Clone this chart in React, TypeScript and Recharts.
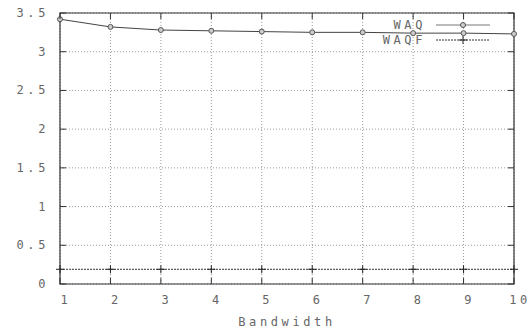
import { LineChart, Line, XAxis, YAxis, CartesianGrid, ReferenceArea } from "recharts";

const bandwidth = [1, 2, 3, 4, 5, 6, 7, 8, 9, 10];
const waq = [3.42, 3.32, 3.28, 3.27, 3.26, 3.25, 3.25, 3.24, 3.24, 3.23];
const waqf = [0.19, 0.19, 0.19, 0.19, 0.19, 0.19, 0.19, 0.19, 0.19, 0.19];
const xTicks = [1, 2, 3, 4, 5, 6, 7, 8, 9, 10];
const yTicks = [0, 0.5, 1, 1.5, 2, 2.5, 3, 3.5];

const data = bandwidth.map((b, i) => ({ b, waq: waq[i], waqf: waqf[i] }));

// plot frame, used only for tick marks drawn inside the box
const L = 60, R = 514, T = 13, B = 284;
const font = { fontFamily: "'DejaVu Sans Mono', monospace", fontSize: 12, letterSpacing: 3.6, fill: "#666" };

const YTick = (p: any) => {
  const y = p.y;
  return (
    <g>
      <line x1={L} x2={L + 6} y1={y} y2={y} stroke="#333" />
      <line x1={R - 6} x2={R} y1={y} y2={y} stroke="#333" />
      <text x={L - 11} y={y + 4} textAnchor="end" style={font}>{String(p.payload.value)}</text>
    </g>
  );
};

const XTick = (p: any) => {
  const x = p.payload.coordinate;
  return (
    <g>
      <line x1={x} x2={x} y1={B} y2={B - 6} stroke="#333" />
      <line x1={x} x2={x} y1={T} y2={T + 6} stroke="#333" />
      <text x={x + 6} y={B + 20} textAnchor="middle" style={font}>{String(p.payload.value)}</text>
    </g>
  );
};

const PlusDot = (p: any) => (
  <g>
    <line x1={p.cx - 4} x2={p.cx + 4} y1={p.cy} y2={p.cy} stroke="#222" />
    <line x1={p.cx} x2={p.cx} y1={p.cy - 4} y2={p.cy + 4} stroke="#222" />
  </g>
);

const LegendBox = () => (
  <svg width={140} height={34} style={{ position: "absolute", left: 370, top: 17, overflow: "visible" }}>
    <text x={56} y={12} textAnchor="end" style={font}>WAQ</text>
    <line x1={66} x2={120} y1={8} y2={8} stroke="#777" />
    <circle cx={93} cy={8} r={2.5} fill="#ccc" stroke="#555" />
    <text x={56} y={27} textAnchor="end" style={font}>WAQF</text>
    <line x1={66} x2={120} y1={23} y2={23} stroke="#333" strokeDasharray="2 1" />
    <line x1={89} x2={97} y1={23} y2={23} stroke="#222" />
    <line x1={93} x2={93} y1={19} y2={27} stroke="#222" />
  </svg>
);

export default function App() {
  return (
    <div style={{ position: "absolute", left: 0, top: 0, width: 532, height: 329, background: "#fff" }}>
      <LineChart width={532} height={329} data={data} margin={{ top: T, right: 532 - R, bottom: 0, left: 0 }}>
        <CartesianGrid stroke="#999" strokeDasharray="1 2" />
        <XAxis
          dataKey="b"
          type="number"
          domain={[1, 10]}
          ticks={xTicks}
          height={329 - B}
          axisLine={false}
          tickLine={false}
          tick={<XTick />}
          label={{ value: "Bandwidth", position: "insideBottom", offset: 3, style: font }}
        />
        <YAxis
          type="number"
          domain={[0, 3.5]}
          ticks={yTicks}
          width={L}
          axisLine={false}
          tickLine={false}
          tickSize={0}
          tick={<YTick />}
        />
        <ReferenceArea x1={1} x2={10} y1={0} y2={3.5} fill="none" stroke="#333" strokeWidth={1.2} ifOverflow="visible" />
        <Line
          dataKey="waqf"
          stroke="#333"
          strokeWidth={1}
          strokeDasharray="2 1"
          dot={<PlusDot />}
          isAnimationActive={false}
        />
        <Line
          dataKey="waq"
          stroke="#444"
          strokeWidth={1}
          dot={{ r: 2.5, fill: "#ccc", stroke: "#555", strokeWidth: 1 }}
          isAnimationActive={false}
        />
      </LineChart>
      <LegendBox />
    </div>
  );
}
